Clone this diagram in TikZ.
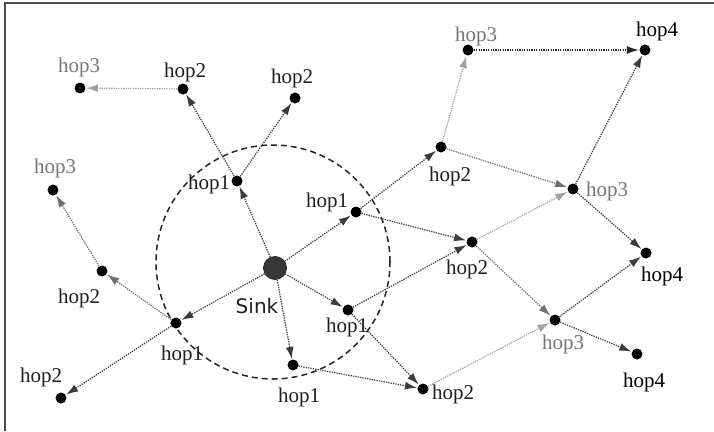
\documentclass[tikz,border=0pt]{standalone}
\usepackage{fontspec}
\setmainfont{Liberation Serif}
\newfontfamily\sinkfont{DejaVu Sans}
\usetikzlibrary{arrows.meta}
\definecolor{edark}{HTML}{3C3C3C}
\definecolor{emid}{HTML}{707070}
\definecolor{elight}{HTML}{A0A0A0}
\definecolor{lblgray}{HTML}{777777}
\tikzset{
  dot/.style={circle,fill=black,inner sep=0pt,minimum size=11pt},
  sinknode/.style={circle,fill=black!78,draw=black!85,line width=0.8pt,inner sep=0pt,minimum size=23pt},
  lbl/.style={font=\fontsize{21}{22}\selectfont,text=black!88,inner sep=0pt},
  lblg/.style={lbl,text=lblgray},
  link/.style={line width=1.2pt,dash pattern=on 1.3pt off 1.1pt,shorten >=0.5pt},
  ldark/.style={link,draw=edark,-{Latex[length=12pt,width=8pt,fill=edark]}},
  lmid/.style={link,draw=emid,-{Latex[length=12pt,width=8pt,fill=emid]}},
  llight/.style={link,draw=elight,-{Latex[length=12pt,width=8pt,fill=elight]}},
  lblack/.style={link,draw=black!85,-{Latex[length=12pt,width=8pt,fill=black!85]}},
  rangecircle/.style={circle,draw=black!85,line width=1.5pt,dash pattern=on 6pt off 4pt,inner sep=0pt,minimum size=234pt},
  frameline/.style={draw=black!70,line width=2pt}
}
\begin{document}
\begin{tikzpicture}[x=1pt,y=-1pt]
\useasboundingbox (0,0) rectangle (714,431);
\fill[white] (0,0) rectangle (714,431);
\coordinate (fb) at (5,431);
\coordinate (ftl) at (5,3);
\coordinate (ftr) at (714,3);
\draw[frameline] (fb) -- (ftl) -- (ftr);
% range circle
\node[rangecircle] (rng) at (273,262) {};
% nodes
\node[sinknode] (sink) at (275,268) {};
\node[dot] (a1) at (237,181) {};
\node[dot] (a2) at (356,212) {};
\node[dot] (a3) at (348,310) {};
\node[dot] (a4) at (293,365) {};
\node[dot] (a5) at (176,323) {};
\node[dot] (b1) at (183,89) {};
\node[dot] (b2) at (295,98) {};
\node[dot] (b3) at (102,271) {};
\node[dot] (b4) at (61,398) {};
\node[dot] (b5) at (441,147) {};
\node[dot] (b6) at (472,242) {};
\node[dot] (b7) at (423,389) {};
\node[dot] (c1) at (80,88) {};
\node[dot] (c2) at (53,190) {};
\node[dot] (c3) at (468,50) {};
\node[dot] (c4) at (573,189) {};
\node[dot] (c5) at (555,320) {};
\node[dot] (d1) at (645,50) {};
\node[dot] (d2) at (646,253) {};
\node[dot] (d3) at (637,354) {};
% labels
\node[lbl,font=\sinkfont\fontsize{20}{21}\selectfont] (tsink) at (257,306) {Sink};
\node[lbl] (ta1) at (209,184) {hop1};
\node[lbl] (ta2) at (327,202) {hop1};
\node[lbl] (ta3) at (347,327) {hop1};
\node[lbl] (ta4) at (299,397) {hop1};
\node[lbl] (ta5) at (182,355) {hop1};
\node[lbl] (tb1) at (185,72) {hop2};
\node[lbl] (tb2) at (292,78) {hop2};
\node[lbl] (tb3) at (79,298) {hop2};
\node[lbl] (tb4) at (41,377) {hop2};
\node[lbl] (tb5) at (450,176) {hop2};
\node[lbl] (tb6) at (467,269) {hop2};
\node[lbl] (tb7) at (453,394) {hop2};
\node[lblg] (tc1) at (79,67) {hop3};
\node[lblg] (tc2) at (55,168) {hop3};
\node[lblg] (tc3) at (476,36) {hop3};
\node[lblg] (tc4) at (607,191) {hop3};
\node[lblg] (tc5) at (563,344) {hop3};
\node[lbl,text=black] (td1) at (657,31) {hop4};
\node[lbl,text=black] (td2) at (662,276) {hop4};
\node[lbl,text=black] (td3) at (644,382) {hop4};
% edges
\draw[ldark] (sink) -- (a1);
\draw[ldark] (sink) -- (a2);
\draw[ldark] (sink) -- (a3);
\draw[ldark] (sink) -- (a4);
\draw[ldark] (sink) -- (a5);
\draw[ldark] (a1) -- (b1);
\draw[ldark] (a1) -- (b2);
\draw[lmid] (a5) -- (b3);
\draw[ldark] (a5) -- (b4);
\draw[ldark] (a2) -- (b5);
\draw[ldark] (a2) -- (b6);
\draw[ldark] (a3) -- (b6);
\draw[ldark] (a3) -- (b7);
\draw[ldark] (a4) -- (b7);
\draw[llight] (b1) -- (c1);
\draw[lmid] (b3) -- (c2);
\draw[llight] (b5) -- (c3);
\draw[lmid] (b5) -- (c4);
\draw[llight] (b6) -- (c4);
\draw[lmid] (b6) -- (c5);
\draw[llight] (b7) -- (c5);
\draw[lblack] (c3) -- (d1);
\draw[ldark] (c4) -- (d1);
\draw[ldark] (c4) -- (d2);
\draw[ldark] (c5) -- (d2);
\draw[ldark] (c5) -- (d3);
\end{tikzpicture}
\end{document}
